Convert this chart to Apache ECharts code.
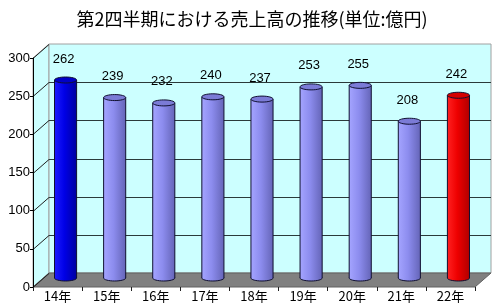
<!DOCTYPE html>
<html><head><meta charset="utf-8">
<script src="https://cdn.jsdelivr.net/npm/echarts@6/dist/echarts.min.js"></script>
<style>html,body{margin:0;padding:0;background:#fff}#c{width:500px;height:307px}</style>
</head><body><div id="c"></div>
<script>
const titleText = '第2四半期における売上高の推移(単位:億円)';
const categories = ['14年','15年','16年','17年','18年','19年','20年','21年','22年'];
const sales = [262, 239, 232, 240, 237, 253, 255, 208, 242];
const yTicks = [0, 50, 100, 150, 200, 250, 300];

const DX = 16, DY = -14; // depth offset of back wall
const palettes = {
  normal: ['#a4a4ff', '#8c8cee', '#6565b8', '#7b7bd6'],
  first:  ['#1a1aff', '#0000e6', '#0000a0', '#0000c8'],
  last:   ['#ff2020', '#ee0000', '#b00000', '#d40000']
};

const chart = echarts.init(document.getElementById('c'));
const FONT = '"Liberation Sans", Arial, sans-serif';
const CJK = '"Noto Sans CJK JP", sans-serif';

function wallsRender(params, api) {
  const cs = params.coordSys;
  const x0 = cs.x, x1 = cs.x + cs.width, yT = cs.y, yB = cs.y + cs.height;
  const fill = '#ccffff', edge = '#a0a0a0';
  return { type: 'group', children: [
    { type: 'polygon', shape: { points: [[x0, yT], [x0 + DX, yT + DY], [x0 + DX, yB + DY], [x0, yB]] },
      style: { fill: fill, stroke: edge, lineWidth: 1 } },
    { type: 'rect', shape: { x: x0 + DX, y: yT + DY, width: cs.width, height: cs.height },
      style: { fill: fill, stroke: edge, lineWidth: 1 } },
    { type: 'polygon', shape: { points: [[x0, yB], [x0 + DX, yB + DY], [x1 + DX, yB + DY], [x1, yB]] },
      style: { fill: '#808080', stroke: '#606060', lineWidth: 1 } }
  ]};
}

function gridRender(params, api) {
  const cs = params.coordSys;
  const v = api.value(0);
  const y = Math.round(api.coord([0, v])[1]) + 0.5;
  const x0 = cs.x, x1 = cs.x + cs.width;
  const children = [
    { type: 'line', shape: { x1: x0, y1: y, x2: x0 + DX, y2: y + DY }, style: { stroke: '#202020', lineWidth: 1 } }
  ];
  if (v > 0 && v < 300) {
    children.push({ type: 'line', shape: { x1: x0 + DX, y1: y + DY, x2: x1 + DX, y2: y + DY }, style: { stroke: '#2a3a3a', lineWidth: 1 } });
  }
  return { type: 'group', children: children };
}

function barRender(params, api) {
  const i = api.value(0), v = api.value(1);
  const n = categories.length;
  const pal = i === 0 ? palettes.first : (i === n - 1 ? palettes.last : palettes.normal);
  const base = api.coord([i, 0]);
  const top = api.coord([i, v]);
  const cx = base[0] + DX / 2;
  const yb = base[1] + DY / 2 - 2;
  const yt = top[1] + DY / 2;
  const w = api.size([1, 0])[0] * 0.45;
  const rx = w / 2, ry = 3;
  const grad = new echarts.graphic.LinearGradient(0, 0, 1, 0, [
    { offset: 0, color: pal[0] }, { offset: 0.45, color: pal[1] }, { offset: 1, color: pal[2] }
  ]);
  const stroke = '#101030';
  return { type: 'group', children: [
    { type: 'ellipse', shape: { cx: cx, cy: yb, rx: rx, ry: ry }, style: { fill: grad, stroke: stroke, lineWidth: 1 } },
    { type: 'rect', shape: { x: cx - rx, y: yt, width: w, height: yb - yt }, style: { fill: grad } },
    { type: 'line', shape: { x1: cx - rx, y1: yt, x2: cx - rx, y2: yb }, style: { stroke: stroke, lineWidth: 1 } },
    { type: 'line', shape: { x1: cx + rx, y1: yt, x2: cx + rx, y2: yb }, style: { stroke: stroke, lineWidth: 1 } },
    { type: 'ellipse', shape: { cx: cx, cy: yt, rx: rx, ry: ry }, style: { fill: pal[3], stroke: stroke, lineWidth: 1 } },
    { type: 'text', style: { text: String(v), x: cx - 2, y: yt - 21, align: 'center', verticalAlign: 'middle',
      fill: '#000', font: '13px ' + FONT } }
  ]};
}

chart.setOption({
  animation: false,
  title: { text: titleText, left: 247, top: 5, textAlign: 'center',
    textStyle: { fontSize: 18, fontWeight: 'normal', color: '#000', fontFamily: CJK } },
  grid: { left: 33, top: 58, width: 442, height: 229, containLabel: false },
  xAxis: { type: 'category', data: categories,
    axisLine: { show: false },
    axisTick: { show: true, length: 4, lineStyle: { color: '#202020' }, alignWithLabel: false },
    axisLabel: { color: '#000', fontSize: 13, fontFamily: CJK, margin: 3 },
    splitLine: { show: false }, z: 10 },
  yAxis: { type: 'value', min: 0, max: 300, interval: 50,
    axisLine: { show: true, lineStyle: { color: '#000' } },
    axisTick: { show: true, length: 3, lineStyle: { color: '#000' } },
    axisLabel: { color: '#000', fontSize: 13, fontFamily: FONT, margin: 3 },
    splitLine: { show: false }, z: 10 },
  series: [
    { type: 'custom', renderItem: wallsRender, data: [[0, 0]], z: 1, silent: true },
    { type: 'custom', renderItem: gridRender, data: yTicks.map(v => [v]), encode: { y: 0 }, z: 2, silent: true },
    { type: 'custom', renderItem: barRender, data: sales.map((v, i) => [i, v]), encode: { x: 0, y: 1 }, z: 3 }
  ]
});
</script></body></html>
